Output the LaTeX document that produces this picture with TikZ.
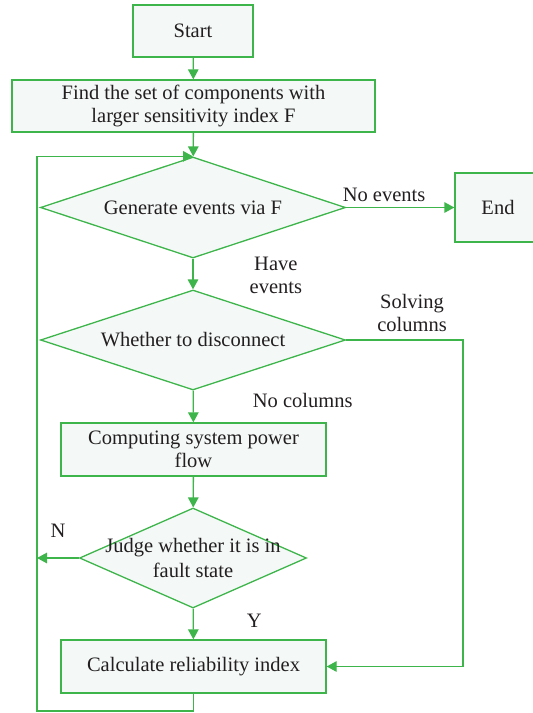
\documentclass[tikz,border=0pt]{standalone}
\usepackage{fontspec}
\setmainfont{Liberation Serif}
\usetikzlibrary{positioning,arrows.meta,shapes.geometric}
\definecolor{flowgreen}{HTML}{3DB54A}
\definecolor{boxfill}{HTML}{F4F9F8}
\definecolor{ink}{HTML}{231F20}

\begin{document}
\begin{tikzpicture}[
  x=1pt,y=-1pt,
  font=\fontsize{20.5}{23.5}\selectfont,text=ink,
  procbox/.style={draw=flowgreen,line width=1.3pt,fill=boxfill,align=center,inner sep=0pt},
  decision/.style={diamond,draw=flowgreen,line width=1.3pt,fill=boxfill,inner sep=0pt,
    label={[lbl]center:#1}},
  arr/.style={-{Triangle[length=10pt,width=10.5pt]},line width=1.3pt,draw=flowgreen},
  lbl/.style={align=center,inner sep=0pt}
]
\useasboundingbox (0,0) rectangle (533,713);
\node[procbox,minimum width=120,minimum height=52] (start) at (193,31) {Start};
\node[procbox,minimum width=363,minimum height=52] (find) at (193.5,106) {Find the set of components with\\larger sensitivity index F};
\node[decision=Generate events via F,minimum width=305,minimum height=101] (gen) at (193,207.5) {};
\node[procbox,minimum width=86,minimum height=69] (end) at (498,207.5) {End};
\node[decision=Whether to disconnect,minimum width=305,minimum height=100] (disc) at (193,340) {};
\node[procbox,minimum width=265,minimum height=53] (flow) at (193.5,449.5) {Computing system power\\flow};
\node[decision={Judge whether it is in\\[2pt]fault state},minimum width=227,minimum height=100] (fault) at (193,558) {};
\node[procbox,minimum width=265,minimum height=53] (calc) at (193.5,666.5) {Calculate reliability index};

\coordinate (loopbl) at (37,711);
\coordinate (rside) at (463,340);

\draw[arr] (start) -- (find);
\draw[arr] (find) -- (gen);
\draw[arr] (gen) -- node[lbl,above=5pt,pos=0.35] {No events} (end);
\draw[arr] (gen) -- node[lbl,right=56pt,pos=0.55] {Have\\events} (disc);
\draw[arr] (disc) -- node[lbl,right=59pt,pos=0.3] {No columns} (flow);
\draw[arr] (flow) -- (fault);
\draw[arr] (fault) -- node[lbl,right=53pt,pos=0.4] {Y} (calc);
\draw[arr] (disc.east) -- (rside) |- (calc.east);
\node[lbl] at (412,313) {Solving\\columns};
\draw[arr] (fault.west) -- node[lbl,above=20pt,pos=0.5] {N} (fault.west -| loopbl);
\draw[arr] (calc.south) |- (loopbl) |- (gen.north);
\end{tikzpicture}
\end{document}
